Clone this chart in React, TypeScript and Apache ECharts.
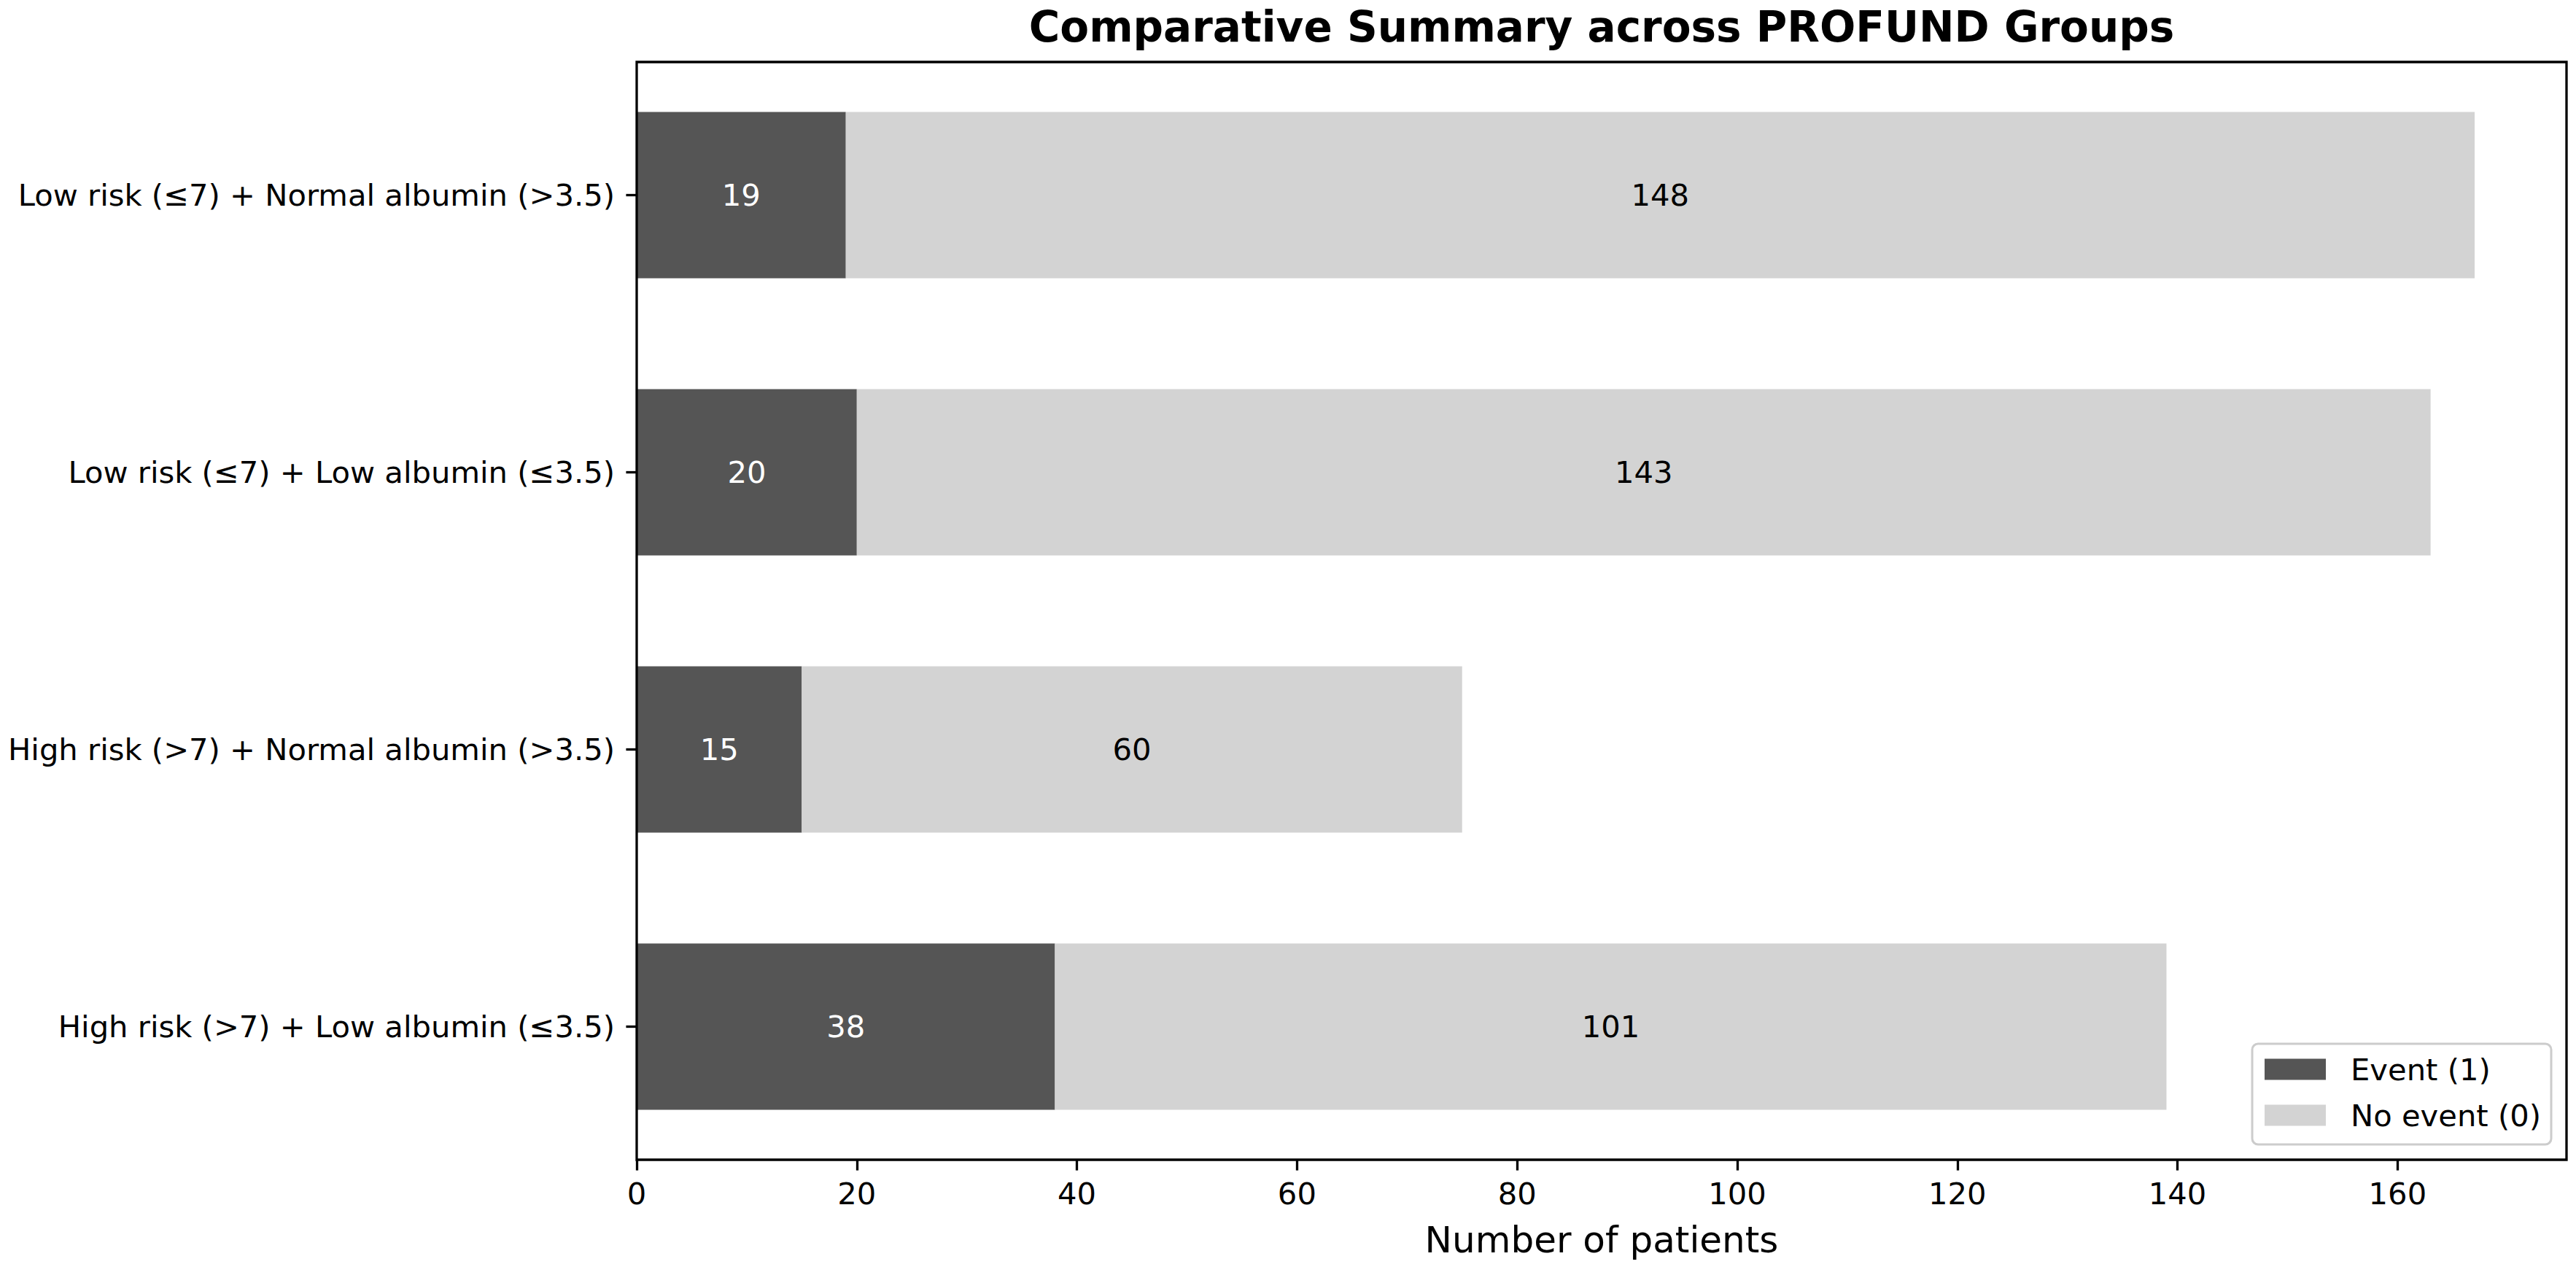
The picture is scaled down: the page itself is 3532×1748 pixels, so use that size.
import { useEffect, useRef } from 'react';
import * as echarts from 'echarts';

// Groups, listed top to bottom as in the chart (y axis is inverted).
const groups = [
  'Low risk (≤7) + Normal albumin (>3.5)',
  'Low risk (≤7) + Low albumin (≤3.5)',
  'High risk (>7) + Normal albumin (>3.5)',
  'High risk (>7) + Low albumin (≤3.5)',
];
const eventCounts = [19, 20, 15, 38];
const noEventCounts = [148, 143, 60, 101];
const xTicks = [0, 20, 40, 60, 80, 100, 120, 140, 160];
const xMax = 175.35;

const FONT = 'DejaVu Sans';
const DARK = '#555555';
const LIGHT = '#d3d3d3';

function buildOption(): echarts.EChartsOption {
  const black = { color: '#000', width: 3.3 };
  return {
    animation: false,
    backgroundColor: '#fff',
    textStyle: { fontFamily: FONT },
    graphic: [
      {
        type: 'text',
        x: 2196,
        y: 37,
        style: {
          text: 'Comparative Summary across PROFUND Groups',
          font: `bold 58px "${FONT}"`,
          fill: '#000',
          textAlign: 'center',
          textVerticalAlign: 'middle',
        },
      },
    ],
    // grid 0 holds the bars; its category bands run a little past the frame,
    // like matplotlib's 5% margins. grid 1 only draws the frame on top.
    grid: [
      { left: 873, right: 13, top: 77.4, bottom: 150.4 },
      {
        left: 873,
        right: 13,
        top: 85,
        bottom: 158,
        show: true,
        z: 10,
        backgroundColor: 'transparent',
        borderColor: '#000',
        borderWidth: 3.3,
      },
    ],
    legend: {
      orient: 'vertical',
      right: 34,
      bottom: 179,
      icon: 'rect',
      itemWidth: 84,
      itemHeight: 29,
      itemGap: 21,
      padding: [14, 14, 19, 17],
      backgroundColor: 'rgba(255,255,255,0.8)',
      borderColor: '#cccccc',
      borderWidth: 3,
      borderRadius: 8,
      z: 20,
      textStyle: { fontSize: 41.7, color: '#000', fontFamily: FONT, padding: [0, 0, 0, 29] },
    },
    xAxis: [
      {
        type: 'value',
        min: 0,
        max: xMax,
        offset: -7.6,
        name: 'Number of patients',
        nameLocation: 'middle',
        nameGap: 85,
        nameTextStyle: { fontSize: 50, color: '#000', fontFamily: FONT },
        axisLine: { show: false },
        axisTick: { show: true, length: 14.6, lineStyle: black, customValues: xTicks },
        axisLabel: { fontSize: 41.7, color: '#000', margin: 25, customValues: xTicks },
        splitLine: { show: false },
      },
      { gridIndex: 1, type: 'value', min: 0, max: xMax, show: false },
    ],
    yAxis: [
      {
        type: 'category',
        data: groups,
        inverse: true,
        axisLine: { show: false },
        axisTick: { show: true, alignWithLabel: true, length: 14.6, lineStyle: black },
        axisLabel: { fontSize: 41.7, color: '#000', margin: 30 },
      },
      { gridIndex: 1, type: 'category', data: groups, show: false },
    ],
    series: [
      {
        name: 'Event (1)',
        type: 'bar',
        stack: 'total',
        barWidth: 228,
        data: eventCounts,
        itemStyle: { color: DARK },
        label: { show: true, position: 'inside', color: '#fff', fontSize: 41.7, fontFamily: FONT },
      },
      {
        name: 'No event (0)',
        type: 'bar',
        stack: 'total',
        barWidth: 228,
        data: noEventCounts,
        itemStyle: { color: LIGHT },
        label: { show: true, position: 'inside', color: '#000', fontSize: 41.7, fontFamily: FONT },
      },
    ],
  };
}

export default function App() {
  const ref = useRef<HTMLDivElement>(null);

  useEffect(() => {
    if (!ref.current) return;
    const chart = echarts.init(ref.current, undefined, { renderer: 'svg' });
    chart.setOption(buildOption());
    return () => chart.dispose();
  }, []);

  return (
    <div
      ref={ref}
      style={{ position: 'fixed', left: 0, top: 0, width: 3532, height: 1748 }}
    />
  );
}
